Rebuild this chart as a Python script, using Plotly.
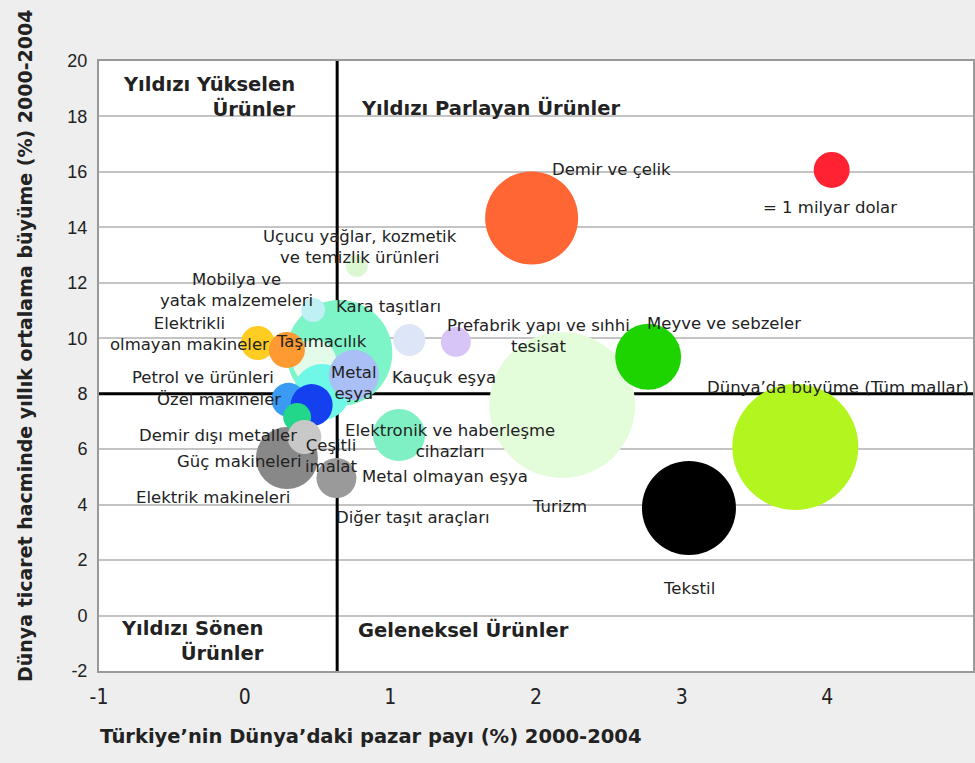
import numpy as np
import plotly.graph_objects as go

# ---------------- data ----------------
names = [
    "Turizm", "Kara taşıtları", "Dünya geneli (etiketsiz)", "Tekstil", "Demir ve çelik",
    "Meyve ve sebzeler", "Elektronik ve haberleşme cihazları", "Güç makineleri",
    "Taşımacılık", "Mobilya ve yatak malzemeleri", "Metal olmayan eşya", "Cyan ürün grubu",
    "Metal eşya", "Elektrikli olmayan makineler", "Taşımacılık (turuncu)",
    "Petrol ve ürünleri", "Özel makineler", "Demir dışı metaller", "Çeşitli imalat",
    "Uçucu yağlar, kozmetik ve temizlik ürünleri", "Kauçuk eşya",
    "Prefabrik yapı ve sıhhi tesisat", "1 milyar dolar",
]
market_share = [2.18, 0.65, 3.78, 3.05, 1.97, 2.77, 1.06, 0.29, 0.48, 0.47, 0.63, 0.53,
                0.75, 0.09, 0.29, 0.30, 0.46, 0.36, 0.41, 0.77, 1.13, 1.45, 4.03]
world_growth = [7.59, 9.47, 6.08, 3.88, 14.34, 9.33, 6.51, 5.68, 9.15, 11.02, 4.96, 8.06,
                8.68, 9.83, 9.58, 7.78, 7.59, 7.16, 6.44, 12.61, 9.94, 9.87, 16.07]
export_value = [16.4, 8.67, 12.25, 6.82, 6.67, 3.36, 2.09, 2.97, 1.49, 0.44, 1.23, 2.42,
                1.93, 0.89, 1.0, 0.89, 1.36, 0.6, 0.89, 0.37, 0.79, 0.69, 1.0]
colors = ["#e3fcda", "#7ef5c8", "#b3f51f", "#000000", "#ff6633", "#1ed400", "#7ff0c3",
          "#888888", "#e3fbe9", "#bff0f3", "#9a9a9a", "#6ff8e8", "#a9bff5", "#ffcc22",
          "#ff9a33", "#3a9bf5", "#1440f0", "#22d68a", "#c8c8c8", "#dcf7d2", "#dce6f7",
          "#d7c5f7", "#ff2233"]

turkey_avg_share = 0.635
world_avg_growth = 8.0

x_ticks = [-1, 0, 1, 2, 3, 4, 5]
x_tick_text = ["-1", "0", "1", "2", "3", "4", "5"]
y_ticks = [-2, 0, 2, 4, 6, 8, 10, 12, 14, 16, 18, 20]
y_tick_text = ["-2", "0", "2", "4", "6", "8", "10", "12", "14", "16", "18", "20"]

bubble_labels = [
    ("Demir ve çelik", 2.52, 16.07),
    ("= 1 milyar dolar", 4.02, 14.70),
    ("Uçucu yağlar, kozmetik<br>ve temizlik ürünleri", 0.79, 13.29),
    ("Mobilya ve<br>yatak malzemeleri", -0.055, 11.74),
    ("Kara taşıtları", 0.99, 11.13),
    ("Elektrikli<br>olmayan makineler", -0.377, 10.16),
    ("Taşımacılık", 0.527, 9.87),
    ("Prefabrik yapı ve sıhhi<br>tesisat", 2.02, 10.08),
    ("Meyve ve sebzeler", 3.29, 10.52),
    ("Kauçuk eşya", 1.37, 8.60),
    ("Metal<br>eşya", 0.753, 8.39),
    ("Petrol ve ürünleri", -0.288, 8.60),
    ("Özel makineler", -0.178, 7.78),
    ("Dünya’da büyüme (Tüm mallar)", 4.075, 8.21),
    ("Demir dışı metaller", -0.185, 6.51),
    ("Elektronik ve haberleşme<br>cihazları", 1.41, 6.30),
    ("Çeşitli<br>imalat", 0.59, 5.74),
    ("Güç makineleri", -0.034, 5.54),
    ("Metal olmayan eşya", 1.377, 5.00),
    ("Turizm", 2.164, 3.95),
    ("Elektrik makineleri", -0.219, 4.24),
    ("Diğer taşıt araçları", 1.158, 3.52),
    ("Tekstil", 3.05, 0.96),
]

quadrant_labels = [
    ("Yıldızı Yükselen<br>Ürünler", 0.363, 18.70, "right"),
    ("Yıldızı Parlayan Ürünler", 0.788, 18.31, "left"),
    ("Yıldızı Sönen<br>Ürünler", 0.144, -0.92, "right"),
    ("Geleneksel Ürünler", 0.767, -0.52, "left"),
]

x_title = "Türkiye’nin Dünya’daki pazar payı (%) 2000-2004"
y_title = "Dünya ticaret hacminde yıllık ortalama büyüme (%) 2000-2004"

# ---------------- figure ----------------
UNIT_DIAM = 36  # px diameter of the 1 milyar dolar bubble
diam = UNIT_DIAM * np.sqrt(np.array(export_value))

fig = go.Figure()

# reference lines (drawn beneath bubbles)
fig.add_trace(go.Scatter(x=[x_ticks[0], x_ticks[-1]], y=[world_avg_growth] * 2, mode="lines",
                         line=dict(color="black", width=3), hoverinfo="skip", showlegend=False))
fig.add_trace(go.Scatter(x=[turkey_avg_share] * 2, y=[y_ticks[0], y_ticks[-1]], mode="lines",
                         line=dict(color="black", width=3), hoverinfo="skip", showlegend=False))

fig.add_trace(go.Scatter(
    x=market_share, y=world_growth, mode="markers", text=names,
    marker=dict(size=diam, sizemode="diameter", color=colors, opacity=1,
                line=dict(width=0)),
    hovertemplate="%{text}<br>%{x}, %{y}<extra></extra>", showlegend=False,
))

FONT = "Liberation Sans, Arial, sans-serif"
LBL_FONT = "DejaVu Sans, Verdana, sans-serif"
annotations = []
for txt, x, y in bubble_labels:
    annotations.append(dict(x=x, y=y, text=txt, showarrow=False, xref="x", yref="y",
                            font=dict(family=LBL_FONT, size=16.5, color="#222222"),
                            align="center"))
for txt, x, y, side in quadrant_labels:
    annotations.append(dict(x=x, y=y, text=txt, showarrow=False, xref="x", yref="y",
                            xanchor=side, align=side,
                            font=dict(family=LBL_FONT, size=19.5, color="#222222",
                                      weight="bold")))
annotations.append(dict(x=-0.001, y=-0.108, xref="paper", yref="paper", text=x_title,
                        showarrow=False, xanchor="left", yanchor="middle",
                        font=dict(family=LBL_FONT, size=19.5, color="#222222", weight="bold")))
annotations.append(dict(x=-0.0845, y=0.533, xref="paper", yref="paper", text=y_title,
                        showarrow=False, textangle=-90, xanchor="center", yanchor="middle",
                        font=dict(family=LBL_FONT, size=19, color="#222222", weight="bold")))

fig.update_layout(
    width=975, height=763, autosize=False,
    margin=dict(l=99, r=0, t=61, b=92),
    paper_bgcolor="#eeeeee", plot_bgcolor="white",
    annotations=annotations, showlegend=False,
)
fig.update_xaxes(range=[x_ticks[0], x_ticks[-1]], tickvals=x_ticks, ticktext=x_tick_text,
                 showgrid=False, zeroline=False, showline=True, linecolor="#999999",
                 linewidth=2, mirror=True, ticks="", ticklabelstandoff=6,
                 tickfont=dict(family="Liberation Sans Narrow, DejaVu Sans Condensed, Arial Narrow, sans-serif",
                               size=21, color="#222222"))
fig.update_yaxes(range=[y_ticks[0], y_ticks[-1]], tickvals=y_ticks, ticktext=y_tick_text,
                 showgrid=True, gridcolor="#c4c4c4", gridwidth=1.5, zeroline=False,
                 showline=True, linecolor="#999999", linewidth=2, mirror=True, ticks="",
                 ticklabelstandoff=6,
                 tickfont=dict(family=FONT, size=18, color="#222222"))

fig.write_html(
    "out.html",
    config={"displayModeBar": False},
    post_script="document.body.style.margin='0';document.body.style.background='#eeeeee';",
)
